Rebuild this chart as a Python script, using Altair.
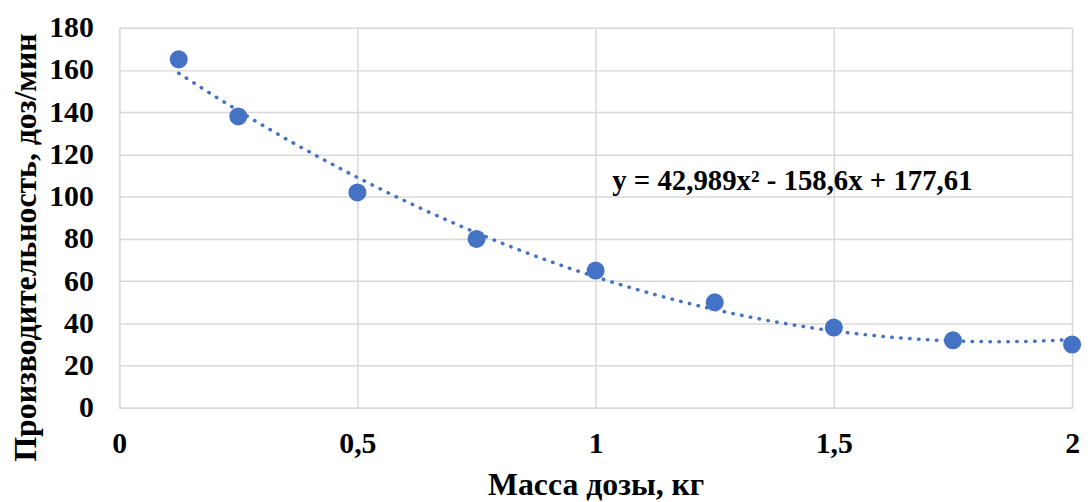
import altair as alt
import pandas as pd

mass = [0.125, 0.25, 0.5, 0.75, 1.0, 1.25, 1.5, 1.75, 2.0]
productivity = [165, 138, 102, 80, 65, 50, 38, 32, 30]
equation = "y = 42,989x\u00b2 - 158,6x + 177,61"

df = pd.DataFrame({"x": mass, "y": productivity})
FONT = "Liberation Serif"
BLUE = "#4472C4"

xs = alt.Scale(domain=[0, 2], nice=False, zero=True)
ys = alt.Scale(domain=[0, 180], nice=False)

xaxis = alt.Axis(
    title="Масса дозы, кг", values=[0, 0.5, 1, 1.5, 2],
    labelExpr="replace(toString(datum.value), '.', ',')",
    labelFont=FONT, labelFontSize=30, labelFontWeight="bold", labelColor="#000",
    labelPadding=21, tickSize=0, domainColor="#d9d9d9", domainWidth=1.5,
    gridColor="#d9d9d9", gridWidth=1.5,
    titleFont=FONT, titleFontSize=32, titleFontWeight="bold", titleColor="#000",
    titleY=87, titleBaseline="alphabetic", labelFlush=False,
)
yaxis = alt.Axis(
    title="Производительность, доз/мин", values=list(range(0, 181, 20)),
    labelFont=FONT, labelFontSize=30, labelFontWeight="bold", labelColor="#000",
    labelPadding=26, tickSize=0, domainColor="#d9d9d9", domainWidth=1.5,
    gridColor="#d9d9d9", gridWidth=1.5,
    titleFont=FONT, titleFontSize=32, titleFontWeight="bold", titleColor="#000",
    titleX=-94, titleY=221, titleAngle=-90, titleBaseline="middle",
)

base = alt.Chart(df)

trend = base.transform_regression(
    "x", "y", method="poly", order=2, extent=[0.125, 2]
).mark_line(color=BLUE, strokeWidth=3.5, strokeDash=[0.5, 8.5], strokeCap="round").encode(
    x=alt.X("x:Q", scale=xs, axis=xaxis),
    y=alt.Y("y:Q", scale=ys, axis=yaxis),
)

points = base.mark_circle(color=BLUE, size=330, opacity=1).encode(
    x=alt.X("x:Q", scale=xs),
    y=alt.Y("y:Q", scale=ys),
)

label = alt.Chart(pd.DataFrame({"x": [1.035], "y": [107.5], "t": [equation]})).mark_text(
    align="left", baseline="middle", font=FONT, fontSize=29, fontWeight="bold", color="#000"
).encode(x=alt.X("x:Q", scale=xs), y=alt.Y("y:Q", scale=ys), text="t:N")

chart = alt.layer(trend, points, label).properties(
    width=960, height=383,
    autosize=alt.AutoSizeParams(type="none"),
    padding={"left": 112, "top": 18, "right": 10, "bottom": 93},
).configure_view(stroke=None).configure(background="white")

chart.save("out.html", embed_options={"renderer": "svg", "actions": False})
